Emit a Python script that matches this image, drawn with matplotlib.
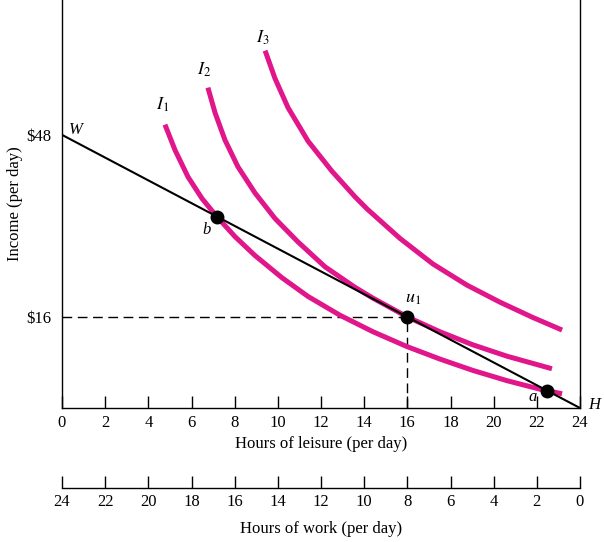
import numpy as np
import matplotlib
matplotlib.use("Agg")
import matplotlib.pyplot as plt

plt.rcParams['font.family'] = ['Liberation Serif', 'DejaVu Serif']
plt.rcParams['mathtext.fontset'] = 'stix'

# budget line W -> H
budget_x = [0, 24]
budget_y = [48, 0]

# indifference curves (leisure hours, income $)
i1_x = [4.77, 5.24, 5.84, 6.49, 7.18, 8.02, 8.94, 10.19, 11.40, 12.88,
        14.41, 15.98, 17.51, 19.04, 20.62, 22.15, 23.17]
i1_y = [49.8, 45.3, 40.6, 36.8, 33.6, 30.1, 26.8, 22.9, 19.6, 16.3,
        13.4, 10.8, 8.6, 6.6, 4.8, 3.3, 2.5]
i2_x = [6.76, 7.09, 7.55, 8.15, 8.94, 9.87, 10.93, 12.19, 13.58, 14.41,
        16.0, 17.51, 19.04, 20.62, 22.70]
i2_y = [56.3, 51.9, 47.1, 42.4, 37.8, 33.3, 29.2, 24.8, 21.2, 19.3,
        16.0, 13.4, 11.1, 9.1, 6.9]
i3_x = [9.41, 9.87, 10.47, 11.40, 12.51, 13.58, 14.13, 15.66, 17.19,
        18.76, 20.29, 21.82, 23.17]
i3_y = [62.8, 57.9, 52.8, 46.9, 41.6, 37.1, 35.0, 29.8, 25.3,
        21.6, 18.6, 15.9, 13.7]

# marked points b, u1, a
pt_x = [7.2, 16, 22.47]
pt_y = [33.6, 16, 3.06]

leisure_ticks = list(range(0, 25, 2))
income_ticks = [16, 48]
income_labels = ['$16', '$48']

pink = '#E0168A'

fig = plt.figure(figsize=(6.04, 5.42), dpi=100)
ax = fig.add_axes([62/604, 1 - 408/542, 518/604, 408/542])

for cx, cy in [(i1_x, i1_y), (i2_x, i2_y), (i3_x, i3_y)]:
    ax.plot(cx, cy, color=pink, lw=3.6, solid_capstyle='butt', solid_joinstyle='round', zorder=2)
ax.plot(budget_x, budget_y, color='black', lw=1.5, zorder=3)

ax.plot([0, 16], [16, 16], color='black', lw=1, dashes=(7, 4), zorder=1)
ax.plot([16, 16], [0, 16], color='black', lw=1, dashes=(7, 4), zorder=1)
ax.plot(pt_x, pt_y, 'o', color='black', ms=9, zorder=4)

ax.set_xlim(0, 24)
ax.set_ylim(0, 71.7)
ax.spines['top'].set_visible(False)
for s in ['left', 'right', 'bottom']:
    ax.spines[s].set_linewidth(1)
ax.set_xticks(leisure_ticks)
ax.tick_params(axis='x', direction='in', length=9, width=1, labelsize=12, pad=5)
ax.set_yticks(income_ticks)
ax.set_yticklabels(income_labels)
ax.tick_params(axis='y', length=0, labelsize=12, pad=8)
ax.set_xlabel('Hours of leisure (per day)', fontsize=12, labelpad=4)
ax.set_ylabel('Income (per day)', fontsize=12)
ax.yaxis.set_label_coords(-0.075, 0.5)

lbl = dict(fontsize=13, ha='center', va='center')
ax.text(4.65, 53.3, r'$I_1$', **lbl)
ax.text(6.6, 59.5, r'$I_2$', **lbl)
ax.text(9.3, 65.0, r'$I_3$', **lbl)
it = dict(fontsize=12, style='italic', ha='center', va='center')
ax.text(0.65, 48.8, 'W', **it)
ax.text(6.7, 31.3, 'b', **it)
ax.text(21.8, 1.9, 'a', **it)
ax.text(24.65, 0.5, 'H', clip_on=False, **it)
ax.text(16.25, 19.2, r'$u_1$', fontsize=13, ha='center', va='center')

# hours of work axis
ax2 = fig.add_axes([62/604, 1 - 488/542, 518/604, 0.02])
ax2.set_xlim(24, 0)
ax2.set_ylim(0, 1)
for s in ['left', 'right', 'top']:
    ax2.spines[s].set_visible(False)
ax2.spines['bottom'].set_linewidth(1)
ax2.set_yticks([])
ax2.set_xticks(leisure_ticks)
ax2.tick_params(axis='x', direction='in', length=9, width=1, labelsize=12, pad=4)
ax2.set_xlabel('Hours of work (per day)', fontsize=12, labelpad=8)
ax2.patch.set_visible(False)

fig.savefig('out.png', dpi=100)
